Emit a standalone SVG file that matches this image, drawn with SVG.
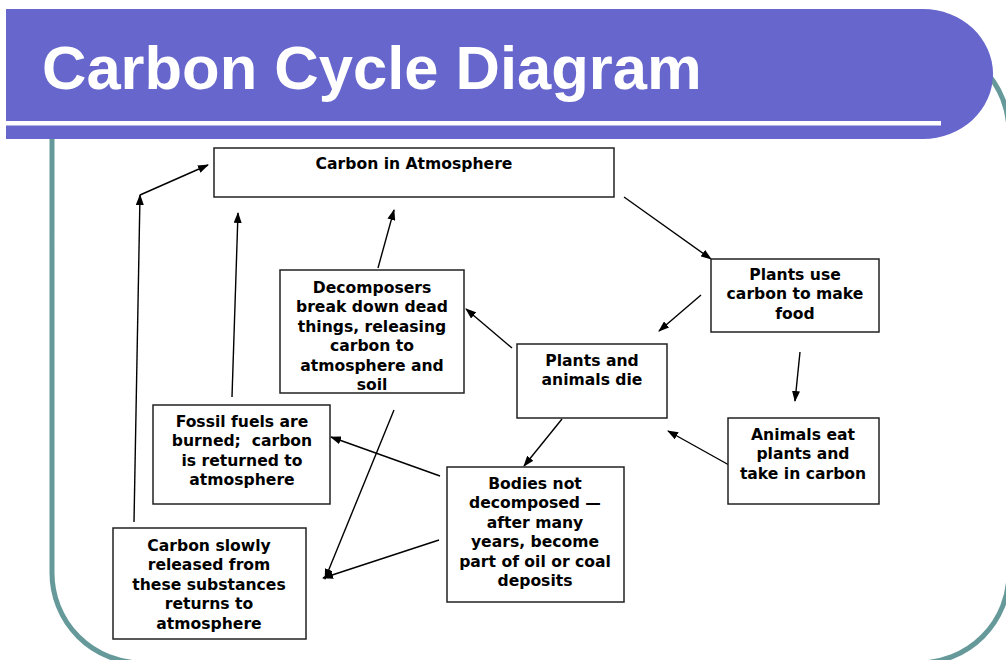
<svg xmlns="http://www.w3.org/2000/svg" width="1006" height="660" viewBox="0 0 1006 660">
<defs>
<style>
.box{fill:#fff;stroke:#222;stroke-width:1.5}
.lbl{font-family:"DejaVu Sans",Verdana,sans-serif;font-weight:bold;font-size:15.6px;fill:#000;text-anchor:middle}
.con{stroke:#000;stroke-width:1.4;fill:none}
.arr{stroke:#000;stroke-width:1.4;fill:none;marker-end:url(#ah)}
</style>
<marker id="ah" markerUnits="userSpaceOnUse" markerWidth="11" markerHeight="8" refX="10" refY="4" orient="auto">
<path d="M0,0 L11,4 L0,8 z" fill="#000"/>
</marker>
</defs>
<rect width="1006" height="660" fill="#fff"/>
<g id="frame">
<rect x="52" y="42" width="957" height="621" rx="90" ry="90" fill="none" stroke="#669999" stroke-width="5"/>
</g>
<g id="header">
<path d="M6,9 H923 A70,65 0 0 1 923,139 H6 Z" fill="#6666CC"/>
<rect x="6" y="121" width="935" height="4.5" fill="#fff"/>
<text x="42" y="89" font-family="Liberation Sans,Arial,sans-serif" font-weight="bold" font-size="61.5" fill="#fff">Carbon Cycle Diagram</text>
</g>
<g id="connectors">
<line class="arr" x1="624" y1="197" x2="711" y2="259"/>
<line class="arr" x1="701" y1="295" x2="659" y2="331"/>
<line class="arr" x1="800" y1="352" x2="795" y2="401"/>
<line class="arr" x1="729" y1="465" x2="668" y2="431"/>
<line class="arr" x1="512" y1="348" x2="466" y2="309"/>
<line class="arr" x1="378" y1="268" x2="394" y2="210"/>
<line class="arr" x1="562" y1="419" x2="524" y2="466"/>
<line class="arr" x1="440" y1="476" x2="331" y2="437"/>
<line class="arr" x1="439" y1="540" x2="323" y2="578"/>
<line class="arr" x1="394" y1="410" x2="325" y2="579"/>
<line class="arr" x1="232" y1="397" x2="238" y2="213"/>
<line class="arr" x1="134" y1="522" x2="140" y2="195"/>
<line class="arr" x1="140" y1="195" x2="208" y2="165"/>
</g>
<g id="atmosphere">
<rect class="box" x="214" y="148" width="400" height="49"/>
<text class="lbl" x="414" y="168.5">Carbon in Atmosphere</text>
</g>
<g id="plants-use">
<rect class="box" x="711" y="259" width="168" height="73"/>
<text class="lbl" x="795" y="279.5"><tspan x="795">Plants use</tspan><tspan x="795" dy="19.5">carbon to make</tspan><tspan x="795" dy="19.5">food</tspan></text>
</g>
<g id="decomposers">
<rect class="box" x="280" y="270" width="184" height="123"/>
<text class="lbl" x="372" y="292.5"><tspan x="372">Decomposers</tspan><tspan x="372" dy="19.5">break down dead</tspan><tspan x="372" dy="19.5">things, releasing</tspan><tspan x="372" dy="19.5">carbon to</tspan><tspan x="372" dy="19.5">atmosphere and</tspan><tspan x="372" dy="19.5">soil</tspan></text>
</g>
<g id="plants-die">
<rect class="box" x="517" y="344" width="150" height="74"/>
<text class="lbl" x="592" y="365.5"><tspan x="592">Plants and</tspan><tspan x="592" dy="19.5">animals die</tspan></text>
</g>
<g id="fossil">
<rect class="box" x="153" y="405" width="177" height="99"/>
<text class="lbl" x="242" y="426.5"><tspan x="242">Fossil fuels are</tspan><tspan x="242" dy="19.5">burned;&#160; carbon</tspan><tspan x="242" dy="19.5">is returned to</tspan><tspan x="242" dy="19.5">atmosphere</tspan></text>
</g>
<g id="animals-eat">
<rect class="box" x="728" y="418" width="151" height="86"/>
<text class="lbl" x="803" y="439.5"><tspan x="803">Animals eat</tspan><tspan x="803" dy="19.5">plants and</tspan><tspan x="803" dy="19.5">take in carbon</tspan></text>
</g>
<g id="bodies">
<rect class="box" x="447" y="467" width="177" height="135"/>
<text class="lbl" x="535" y="488.5"><tspan x="535">Bodies not</tspan><tspan x="535" dy="19.5">decomposed —</tspan><tspan x="535" dy="19.5">after many</tspan><tspan x="535" dy="19.5">years, become</tspan><tspan x="535" dy="19.5">part of oil or coal</tspan><tspan x="535" dy="19.5">deposits</tspan></text>
</g>
<g id="carbon-slowly">
<rect class="box" x="113" y="528" width="193" height="111"/>
<text class="lbl" x="209" y="550.5"><tspan x="209">Carbon slowly</tspan><tspan x="209" dy="19.5">released from</tspan><tspan x="209" dy="19.5">these substances</tspan><tspan x="209" dy="19.5">returns to</tspan><tspan x="209" dy="19.5">atmosphere</tspan></text>
</g>
</svg>
